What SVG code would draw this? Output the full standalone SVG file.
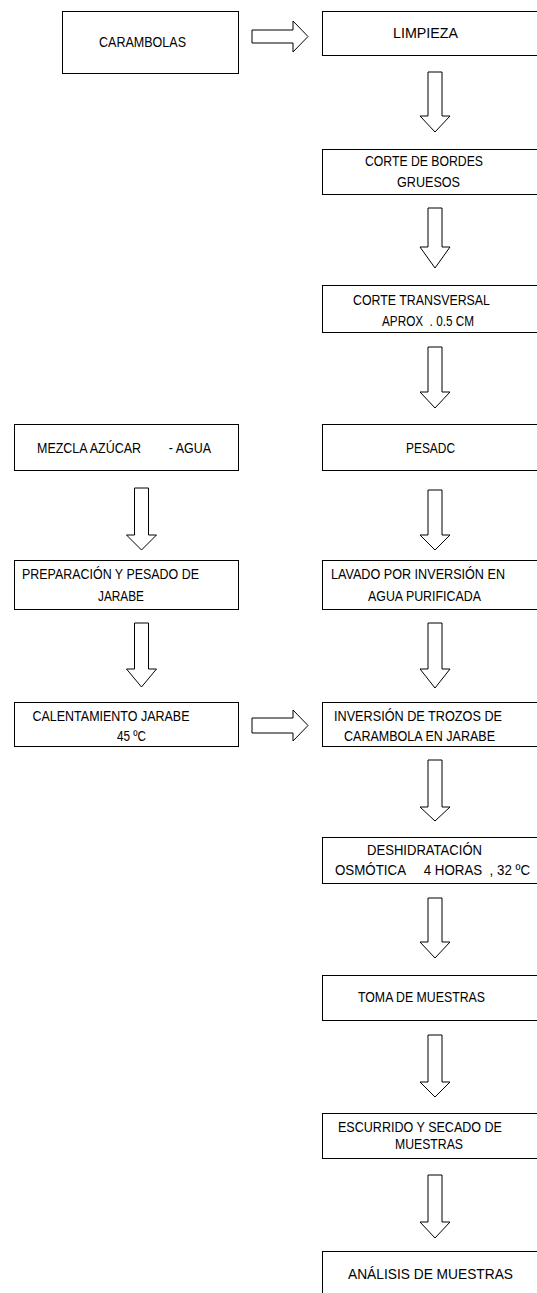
<svg xmlns="http://www.w3.org/2000/svg" width="537" height="1293" viewBox="0 0 537 1293">
<style>
.box{fill:#fff;stroke:#000;stroke-width:1}
.arr{fill:#fff;stroke:#000;stroke-width:1;stroke-linejoin:miter}
text{font-family:"Liberation Sans",Arial,sans-serif;font-size:15px;fill:#000}
.pre{white-space:pre}
</style>
<rect width="537" height="1293" fill="#fff"/>
<g id="connectors">
<polygon class="arr" points="252,30 293,30 293,21 308,36.5 293,52 293,43 252,43"/>
<polygon class="arr" points="252,718 293,718 293,710 308,725.5 293,741 293,733 252,733"/>
<polygon class="arr" points="428,72 442,72 442,116 450,116 435,132 420,116 428,116"/>
<polygon class="arr" points="428,208 442,208 442,247 450,247 435,268 420,247 428,247"/>
<polygon class="arr" points="428,347 442,347 442,392 450,392 435,408 420,392 428,392"/>
<polygon class="arr" points="428,490 442,490 442,535 450,535 435,550 420,535 428,535"/>
<polygon class="arr" points="428,623 442,623 442,669 450,669 435,688 420,669 428,669"/>
<polygon class="arr" points="428,760 442,760 442,807 450,807 435,821 420,807 428,807"/>
<polygon class="arr" points="428,898 442,898 442,942 450,942 435,958 420,942 428,942"/>
<polygon class="arr" points="428,1035 442,1035 442,1082 450,1082 435,1097 420,1082 428,1082"/>
<polygon class="arr" points="428,1175 442,1175 442,1222 450,1222 435,1238 420,1222 428,1222"/>
<polygon class="arr" points="134.5,488 148.5,488 148.5,535 156.5,535 141.5,550 126.5,535 134.5,535"/>
<polygon class="arr" points="134.5,623 148.5,623 148.5,669 156.5,669 141.5,687 126.5,669 134.5,669"/>
</g>
<g id="n-carambolas"><rect class="box" x="62.5" y="11.5" width="176" height="62"/><text x="99" y="47" textLength="87" lengthAdjust="spacingAndGlyphs">CARAMBOLAS</text></g>
<g id="n-limpieza"><rect class="box" x="322.5" y="11.5" width="220" height="44"/><text x="393" y="37.5" textLength="65" lengthAdjust="spacingAndGlyphs">LIMPIEZA</text></g>
<g id="n-corte-bordes"><rect class="box" x="322.5" y="149.5" width="220" height="45"/><text x="365" y="166" textLength="118" lengthAdjust="spacingAndGlyphs">CORTE DE BORDES</text><text x="397" y="187.3" textLength="63" lengthAdjust="spacingAndGlyphs">GRUESOS</text></g>
<g id="n-corte-transversal"><rect class="box" x="322.5" y="285.5" width="220" height="47"/><text x="353" y="305" textLength="137" lengthAdjust="spacingAndGlyphs">CORTE TRANSVERSAL</text><text class="pre" xml:space="preserve" x="382" y="326" textLength="92" lengthAdjust="spacingAndGlyphs">APROX  . 0.5 CM</text></g>
<g id="n-mezcla"><rect class="box" x="14.5" y="424.5" width="224" height="46"/><text class="pre" xml:space="preserve" x="37" y="452.5" textLength="174" lengthAdjust="spacingAndGlyphs">MEZCLA AZÚCAR        - AGUA</text></g>
<g id="n-pesado"><rect class="box" x="322.5" y="424.5" width="220" height="46"/><text x="406" y="452.5" textLength="49" lengthAdjust="spacingAndGlyphs">PESADC</text></g>
<g id="n-preparacion"><rect class="box" x="14.5" y="560.5" width="224" height="49"/><text x="22" y="579" textLength="177" lengthAdjust="spacingAndGlyphs">PREPARACIÓN Y PESADO DE</text><text x="98" y="600.5" textLength="46" lengthAdjust="spacingAndGlyphs">JARABE</text></g>
<g id="n-lavado"><rect class="box" x="322.5" y="560.5" width="220" height="49"/><text x="331" y="579" textLength="174" lengthAdjust="spacingAndGlyphs">LAVADO POR INVERSIÓN EN</text><text x="368" y="600.5" textLength="113" lengthAdjust="spacingAndGlyphs">AGUA PURIFICADA</text></g>
<g id="n-calentamiento"><rect class="box" x="14.5" y="702.5" width="224" height="44"/><text x="32.5" y="721" textLength="157" lengthAdjust="spacingAndGlyphs">CALENTAMIENTO JARABE</text><text x="117" y="741" textLength="29" lengthAdjust="spacingAndGlyphs">45 ºC</text></g>
<g id="n-inversion"><rect class="box" x="322.5" y="702.5" width="220" height="44"/><text x="334" y="721" textLength="168" lengthAdjust="spacingAndGlyphs">INVERSIÓN DE TROZOS DE</text><text x="344" y="741" textLength="151" lengthAdjust="spacingAndGlyphs">CARAMBOLA EN JARABE</text></g>
<g id="n-deshidratacion"><rect class="box" x="322.5" y="837.5" width="220" height="46"/><text x="367" y="855" textLength="115" lengthAdjust="spacingAndGlyphs">DESHIDRATACIÓN</text><text class="pre" xml:space="preserve" x="335" y="875" textLength="195" lengthAdjust="spacingAndGlyphs">OSMÓTICA     4 HORAS  , 32 ºC</text></g>
<g id="n-toma"><rect class="box" x="322.5" y="975.5" width="220" height="45"/><text x="358" y="1002" textLength="127" lengthAdjust="spacingAndGlyphs">TOMA DE MUESTRAS</text></g>
<g id="n-escurrido"><rect class="box" x="322.5" y="1113.5" width="220" height="45"/><text x="338" y="1132" textLength="164" lengthAdjust="spacingAndGlyphs">ESCURRIDO Y SECADO DE</text><text x="395" y="1148.5" textLength="68" lengthAdjust="spacingAndGlyphs">MUESTRAS</text></g>
<g id="n-analisis"><rect class="box" x="322.5" y="1251.5" width="220" height="60"/><text x="348" y="1279" textLength="165" lengthAdjust="spacingAndGlyphs">ANÁLISIS DE MUESTRAS</text></g>
</svg>
